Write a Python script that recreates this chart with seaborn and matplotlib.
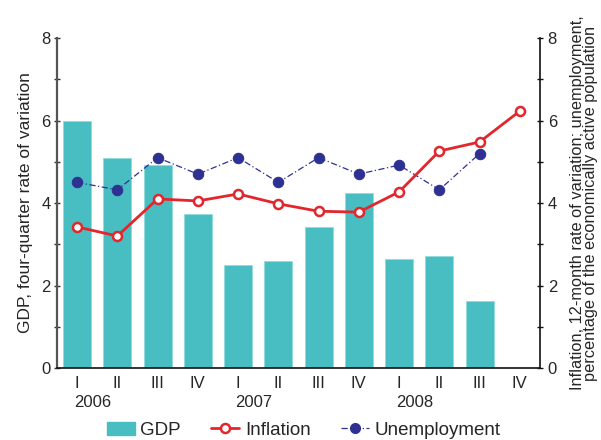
import matplotlib
matplotlib.use("Agg")
import matplotlib.pyplot as plt
import seaborn as sns
import pandas as pd
import numpy as np
from matplotlib.lines import Line2D
from matplotlib.patches import Patch

quarters = ["I", "II", "III", "IV", "I", "II", "III", "IV", "I", "II", "III", "IV"]
years = ["2006", "2007", "2008"]
gdp = [6.0, 5.1, 4.92, 3.73, 2.5, 2.6, 3.42, 4.24, 2.64, 2.72, 1.62]
inflation = [3.42, 3.2, 4.1, 4.05, 4.22, 3.98, 3.8, 3.78, 4.27, 5.26, 5.48, 6.23]
unemployment = [4.5, 4.32, 5.1, 4.7, 5.1, 4.5, 5.1, 4.7, 4.92, 4.32, 5.2]

teal = "#48BEC3"
red = "#E3262B"
navy = "#2E3192"

sns.set_theme(style="white")
plt.rcParams['font.family'] = ['Liberation Sans', 'DejaVu Sans']

keys = [f"{q} {years[i // 4]}" for i, q in enumerate(quarters)]
df_gdp = pd.DataFrame({"key": keys[:len(gdp)], "gdp": gdp})
df_inf = pd.DataFrame({"x": np.arange(len(inflation)), "v": inflation})
df_un = pd.DataFrame({"x": np.arange(len(unemployment)), "v": unemployment})

fig = plt.figure(figsize=(6.01, 4.40), dpi=100)
ax = fig.add_axes([0.0948, 0.1636, 0.8037, 0.75])

sns.barplot(data=df_gdp, x="key", y="gdp", order=keys, color=teal,
            width=0.7, saturation=1, edgecolor="#8fdcdc", linewidth=0.6, ax=ax)
ax.set_xlim(-0.5, len(keys) - 0.5)
ax.set_ylim(0, 8)
ax.set_yticks([0, 2, 4, 6, 8])
ax.set_yticks([1, 3, 5, 7], minor=True)
ax.set_xticks(range(len(keys)))
ax.set_xticklabels(quarters, fontsize=12)
ax.set_xlabel("")
ax.set_ylabel("GDP, four-quarter rate of variation", fontsize=12.5, labelpad=6)
ax.tick_params(axis="y", which="both", direction="inout", length=5, width=1,
               labelsize=12, left=True, color="#333333", pad=2)
ax.tick_params(axis="x", length=0, pad=6)
for s in ["top", "right"]:
    ax.spines[s].set_visible(False)
ax.spines["left"].set_color("#555555")
ax.spines["left"].set_linewidth(1.6)
ax.spines["bottom"].set_color("#111111")
ax.spines["bottom"].set_linewidth(1.2)

ax2 = ax.twinx()
sns.lineplot(data=df_un, x="x", y="v", color=navy, linewidth=0.9,
             linestyle=(0, (5, 2, 1, 2)), marker="o", markersize=7.5,
             markeredgecolor=navy, markerfacecolor=navy, ax=ax2)
sns.lineplot(data=df_inf, x="x", y="v", color=red, linewidth=2,
             marker="o", markersize=6.5, markerfacecolor="white",
             markeredgecolor=red, markeredgewidth=1.8, ax=ax2)
ax2.set_ylim(0, 8)
ax2.set_xlim(-0.5, len(keys) - 0.5)
ax2.set_yticks([0, 2, 4, 6, 8])
ax2.set_yticks([1, 3, 5, 7], minor=True)
ax2.set_xlabel("")
ax2.set_ylabel("Inflation, 12-month rate of variation; unemployment,\n"
               "percentage of the economically active population",
               fontsize=11.8, labelpad=9, linespacing=0.9)
ax2.tick_params(axis="y", which="both", direction="inout", length=5, width=1,
                labelsize=12, right=True, color="#111111", pad=3)
for s in ["top", "left", "bottom"]:
    ax2.spines[s].set_visible(False)
ax2.spines["right"].set_color("#111111")
ax2.spines["right"].set_linewidth(1.2)

for i, y in enumerate(years):
    ax.text(4 * i - 0.07, -0.105, y, transform=ax.get_xaxis_transform(),
            ha="left", va="center", fontsize=12)

handles = [
    Patch(facecolor=teal, edgecolor=teal),
    Line2D([], [], color=red, lw=2, marker="o", markersize=6.5,
           markerfacecolor="white", markeredgecolor=red, markeredgewidth=1.8),
    Line2D([], [], color=navy, lw=0.9, linestyle=(0, (5, 2, 1, 2)), marker="o",
           markersize=7, markerfacecolor=navy, markeredgecolor=navy),
]
fig.legend(handles, ["GDP", "Inflation", "Unemployment"], loc="center",
           bbox_to_anchor=(0.505, 0.022), ncol=3, frameon=False, fontsize=13.5,
           handlelength=1.5, handletextpad=0.3, columnspacing=1.6,
           borderaxespad=0)

fig.savefig("out.png", dpi=100)
